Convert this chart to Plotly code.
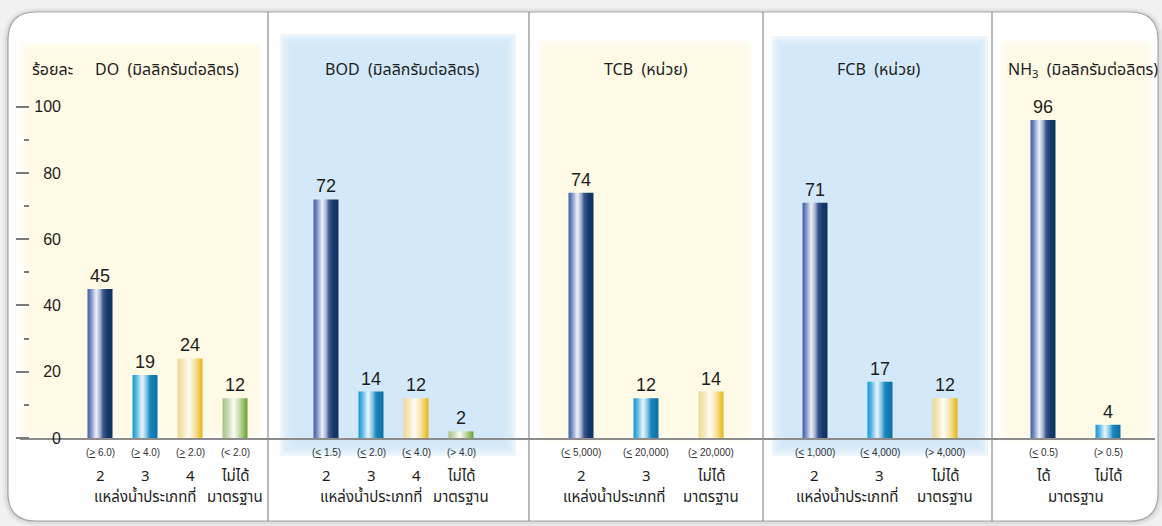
import plotly.graph_objects as go

# ---- data -------------------------------------------------------------
do_vals = [45, 19, 24, 12]
do_limits = ["≥ 6.0", "≥ 4.0", "≥ 2.0", "< 2.0"]
do_cats = ["2", "3", "4", "ไม่ได้"]

bod_vals = [72, 14, 12, 2]
bod_limits = ["≤ 1.5", "≤ 2.0", "≤ 4.0", "> 4.0"]
bod_cats = ["2", "3", "4", "ไม่ได้"]

tcb_vals = [74, 12, 14]
tcb_limits = ["≤ 5,000", "≤ 20,000", "≥ 20,000"]
tcb_cats = ["2", "3", "ไม่ได้"]

fcb_vals = [71, 17, 12]
fcb_limits = ["≤ 1,000", "≤ 4,000", "> 4,000"]
fcb_cats = ["2", "3", "ไม่ได้"]

nh3_vals = [96, 4]
nh3_limits = ["≤ 0.5", "> 0.5"]
nh3_cats = ["ได้", "ไม่ได้"]

y_ticks = [0, 20, 40, 60, 80, 100]

# ---- styling ------------------------------------------------------------
W, H = 1162, 526
NUM_FONT = "Liberation Sans, Arial, sans-serif"
THAI_FONT = "Noto Sans Thai, Loma, Garuda, Noto Sans, Liberation Sans, sans-serif"
TXT = "#1e1e1e"

NAVY = [[0, "#3f5fa3"], [0.12, "#6f86bf"], [0.35, "#eef1f8"], [0.5, "#aab4d2"],
        [0.62, "#3e5990"], [0.8, "#17386a"], [1, "#0c3460"]]
CYAN = [[0, "#1197d4"], [0.15, "#55b5e2"], [0.38, "#eaf6fc"], [0.55, "#8cc8e6"],
        [0.7, "#1a86bf"], [1, "#0a6f9f"]]
GOLD = [[0, "#eed996"], [0.2, "#f5e6b8"], [0.45, "#fffdf5"], [0.7, "#f6e3a4"],
        [0.88, "#efc948"], [1, "#e3b21a"]]
GREEN = [[0, "#a5c285"], [0.2, "#c6d8b0"], [0.45, "#f9fbf6"], [0.7, "#c0d7a3"],
         [0.88, "#88b55a"], [1, "#66a12a"]]
BAR_SCALES = [NAVY, CYAN, GOLD, GREEN]

YELLOW_BG = "#fffbe6"
BLUE_BG = "#d3e8f8"


def X(px):
    return px / W


def Y(py):
    return 1 - py / H


# panel geometry: pixel span, first bar centre, bar pitch
panels = [
    dict(vals=do_vals, limits=do_limits, cats=do_cats, span=(20, 268), c0=100, pitch=45,
         bg=YELLOW_BG, bgbox=(20, 42, 262, 440), group_at=1, std_at=3),
    dict(vals=bod_vals, limits=bod_limits, cats=bod_cats, span=(268, 529), c0=326, pitch=45,
         bg=BLUE_BG, bgbox=(280, 34, 516, 456), group_at=1, std_at=3),
    dict(vals=tcb_vals, limits=tcb_limits, cats=tcb_cats, span=(529, 763), c0=581, pitch=65,
         bg=YELLOW_BG, bgbox=(538, 40, 752, 442), group_at=0.5, std_at=2),
    dict(vals=fcb_vals, limits=fcb_limits, cats=fcb_cats, span=(763, 992), c0=815, pitch=65,
         bg=BLUE_BG, bgbox=(772, 36, 988, 456), group_at=0.5, std_at=2),
    dict(vals=nh3_vals, limits=nh3_limits, cats=nh3_cats, span=(992, 1155), c0=1043, pitch=65,
         bg=YELLOW_BG, bgbox=(1000, 40, 1152, 442), group_at=None, std_at=0.5),
]
BAR_PX = 25

Y_BOTTOM_PX, Y_TOP_PX = 438, 106.7  # pixel rows of 0 and 100

fig = go.Figure()
shapes = []
annotations = []


def limit_html(s):
    s = s.replace("<", "&lt;").replace(">", "&gt;")
    s = s.replace("≥", "<u>&gt;</u>").replace("≤", "<u>&lt;</u>")
    return "(" + s + ")"


# card and shadow
def rounded(x0, y0, x1, y1, r):
    rx, ry = r / W, r / H
    a, b, c, d = X(x0), Y(y1), X(x1), Y(y0)
    return (f"M {a + rx},{d} L {c - rx},{d} Q {c},{d} {c},{d - ry} "
            f"L {c},{b + ry} Q {c},{b} {c - rx},{b} L {a + rx},{b} "
            f"Q {a},{b} {a},{b + ry} L {a},{d - ry} Q {a},{d} {a + rx},{d} Z")


for i, col in enumerate(["rgba(0,0,0,0.035)", "rgba(0,0,0,0.05)", "rgba(0,0,0,0.07)"]):
    g = 5 - 2 * i
    shapes.append(dict(type="path", xref="paper", yref="paper", layer="below",
                       path=rounded(8 - g, 12 - g + 1, 1158 + g, 521 + g, 28 + g),
                       fillcolor=col, line=dict(width=0)))
shapes.append(dict(type="path", xref="paper", yref="paper", layer="below",
                   path=rounded(8, 12, 1158, 521, 28),
                   fillcolor="white", line=dict(color="#a8a8a8", width=1.2)))

# soft panel backgrounds
for p in panels:
    x0, y0, x1, y1 = p["bgbox"]
    for k in range(7):
        inset = 2.5 * k
        shapes.append(dict(type="rect", xref="paper", yref="paper", layer="below",
                           x0=X(x0 + inset), x1=X(x1 - inset),
                           y0=Y(y1 - inset), y1=Y(y0 + inset),
                           fillcolor=p["bg"], opacity=0.38, line=dict(width=0)))

# panel separators
for sx in [268, 529, 763, 992]:
    shapes.append(dict(type="line", xref="paper", yref="paper", layer="below",
                       x0=X(sx), x1=X(sx), y0=Y(521), y1=Y(12),
                       line=dict(color="#8c8c8c", width=1.2)))

ydom = [Y(Y_BOTTOM_PX), Y(Y_TOP_PX)]
layout_axes = {}

for n, p in enumerate(panels):
    ax = "" if n == 0 else str(n + 1)
    xref = "x" + ax
    L, R = p["span"]
    s = p["pitch"]
    layout_axes["xaxis" + ax] = dict(
        domain=[X(L), X(R)], range=[(L - p["c0"]) / s, (R - p["c0"]) / s],
        anchor="y", showgrid=False, zeroline=False, showticklabels=False, ticks="",
        showline=True, linecolor="#8c8c8c", linewidth=2, fixedrange=True,
        automargin=False)
    hw = BAR_PX / 2 / s
    for i, v in enumerate(p["vals"]):
        fig.add_trace(go.Scatter(
            x=[i - hw, i - hw, i + hw, i + hw, i - hw], y=[0, v, v, 0, 0],
            xaxis=xref, yaxis="y", mode="lines", fill="toself",
            line=dict(width=0, color="rgba(0,0,0,0)"),
            fillgradient=dict(type="horizontal", colorscale=BAR_SCALES[i]),
            hoverinfo="skip", showlegend=False))
        annotations.append(dict(x=i, y=v, xref=xref, yref="y", text=str(v),
                                showarrow=False, yanchor="bottom", yshift=1,
                                font=dict(family=NUM_FONT, size=18, color=TXT)))
        annotations.append(dict(x=i, y=Y(452), xref=xref, yref="paper", yanchor="middle",
                                text=limit_html(p["limits"][i]), showarrow=False,
                                font=dict(family=NUM_FONT, size=10, color="#333")))
        annotations.append(dict(x=i, y=Y(476), xref=xref, yref="paper", yanchor="middle",
                                text=p["cats"][i], showarrow=False,
                                font=dict(family=THAI_FONT, size=15, color=TXT)))
    if p["group_at"] is not None:
        annotations.append(dict(x=p["group_at"], y=Y(497), xref=xref, yref="paper",
                                yanchor="middle", text="แหล่งน้ำประเภทที่", showarrow=False,
                                font=dict(family=THAI_FONT, size=15, color=TXT)))
    annotations.append(dict(x=p["std_at"], y=Y(497), xref=xref, yref="paper",
                            yanchor="middle", text="มาตรฐาน", showarrow=False,
                            font=dict(family=THAI_FONT, size=15, color=TXT)))

# panel headings
head_font = dict(family=THAI_FONT, size=16, color=TXT)
headings = [
    ("ร้อยละ", 30, "left"),
    ("DO  (มิลลิกรัมต่อลิตร)", 93, "left"),
    ("BOD  (มิลลิกรัมต่อลิตร)", 402, "center"),
    ("TCB  (หน่วย)", 646, "center"),
    ("FCB  (หน่วย)", 879, "center"),
    ("NH<sub>3</sub>  (มิลลิกรัมต่อลิตร)", 1006, "left"),
]
for text, px, anchor in headings:
    annotations.append(dict(x=X(px), y=Y(70), xref="paper", yref="paper", text=text,
                            xanchor=anchor, yanchor="middle", showarrow=False,
                            font=head_font))

# invisible anchor so the label axis is drawn
fig.add_trace(go.Scatter(x=[0], y=[0], xaxis="x", yaxis="y2", mode="markers",
                         marker=dict(opacity=0), hoverinfo="skip", showlegend=False))

fig.update_layout(
    width=W, height=H, autosize=False, margin=dict(l=0, r=0, t=0, b=0, pad=0),
    paper_bgcolor="#f1f1f1", plot_bgcolor="rgba(0,0,0,0)",
    showlegend=False, shapes=shapes, annotations=annotations,
    yaxis=dict(domain=ydom, range=[0, 100], anchor="free", position=X(29),
               tickvals=y_ticks, ticks="outside", ticklen=13, tickwidth=2,
               tickcolor="#7a7a7a", showticklabels=False, showgrid=False,
               zeroline=False, showline=False, fixedrange=True, automargin=False,
               minor=dict(dtick=10, tick0=0, ticks="outside", ticklen=5,
                          tickwidth=2, tickcolor="#7a7a7a", showgrid=False)),
    yaxis2=dict(domain=ydom, range=[0, 100], overlaying="y", anchor="free",
                position=X(61), side="left", tickvals=y_ticks, ticks="",
                tickfont=dict(family=NUM_FONT, size=16, color=TXT), automargin=False,
                showgrid=False, zeroline=False, showline=False, fixedrange=True),
    **layout_axes,
)

fig.write_html("out.html", config={"responsive": False})
